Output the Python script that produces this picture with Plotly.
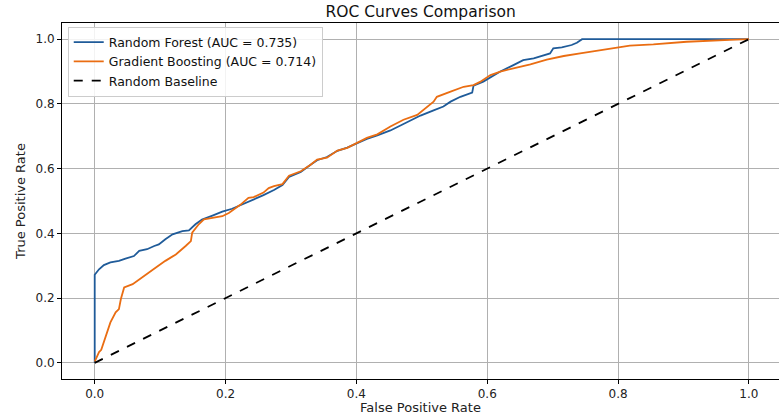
import plotly.graph_objects as go

# Random Forest ROC
rf_fpr = [0.0, 0.0, 0.0066, 0.014, 0.024, 0.037, 0.047, 0.060, 0.068, 0.080, 0.091, 0.098,
          0.108, 0.119, 0.134, 0.144, 0.154, 0.164, 0.180, 0.195, 0.210, 0.223, 0.243, 0.258,
          0.274, 0.287, 0.297, 0.315, 0.330, 0.340, 0.355, 0.371, 0.386, 0.401, 0.416, 0.432,
          0.452, 0.472, 0.498, 0.518, 0.533, 0.544, 0.559, 0.577, 0.579, 0.594, 0.610, 0.620,
          0.640, 0.655, 0.671, 0.696, 0.701, 0.714, 0.729, 0.737, 0.745, 1.0]
rf_tpr = [0.0, 0.272, 0.289, 0.302, 0.310, 0.315, 0.322, 0.330, 0.346, 0.351, 0.361, 0.366,
          0.382, 0.397, 0.407, 0.409, 0.428, 0.443, 0.455, 0.467, 0.476, 0.487, 0.506, 0.518,
          0.534, 0.549, 0.574, 0.590, 0.612, 0.626, 0.636, 0.655, 0.665, 0.679, 0.692, 0.703,
          0.718, 0.738, 0.764, 0.780, 0.792, 0.807, 0.822, 0.835, 0.856, 0.869, 0.889, 0.900,
          0.920, 0.935, 0.941, 0.956, 0.972, 0.975, 0.982, 0.989, 1.0, 1.0]

# Gradient Boosting ROC
gb_fpr = [0.0, 0.0066, 0.010, 0.014, 0.019, 0.024, 0.032, 0.037, 0.040, 0.045, 0.058, 0.068,
          0.078, 0.093, 0.108, 0.124, 0.139, 0.147, 0.149, 0.159, 0.167, 0.180, 0.195, 0.205,
          0.213, 0.223, 0.235, 0.243, 0.258, 0.266, 0.274, 0.287, 0.297, 0.315, 0.330, 0.340,
          0.355, 0.371, 0.386, 0.401, 0.416, 0.432, 0.452, 0.472, 0.493, 0.518, 0.523, 0.544,
          0.564, 0.579, 0.589, 0.605, 0.620, 0.640, 0.666, 0.691, 0.717, 0.742, 0.767, 0.793,
          0.818, 0.854, 0.905, 0.971, 1.0]
gb_tpr = [0.004, 0.033, 0.040, 0.064, 0.094, 0.125, 0.156, 0.166, 0.197, 0.233, 0.243, 0.258,
          0.274, 0.294, 0.315, 0.335, 0.361, 0.376, 0.402, 0.428, 0.443, 0.448, 0.453, 0.463,
          0.474, 0.489, 0.510, 0.512, 0.526, 0.540, 0.546, 0.552, 0.578, 0.592, 0.612, 0.628,
          0.634, 0.656, 0.664, 0.680, 0.695, 0.706, 0.730, 0.751, 0.766, 0.807, 0.822, 0.838,
          0.853, 0.858, 0.868, 0.889, 0.900, 0.910, 0.922, 0.937, 0.948, 0.956, 0.964, 0.972,
          0.980, 0.984, 0.992, 0.998, 1.0]

base_x = [0.0, 1.0]
base_y = [0.0, 1.0]

rf_label = "Random Forest (AUC = 0.735)"
gb_label = "Gradient Boosting (AUC = 0.714)"
base_label = "Random Baseline"

x_ticks = [0.0, 0.2, 0.4, 0.6, 0.8, 1.0]
y_ticks = [0.0, 0.2, 0.4, 0.6, 0.8, 1.0]

FONT = "DejaVu Sans"

fig = go.Figure()
fig.add_trace(go.Scatter(x=rf_fpr, y=rf_tpr, mode="lines", name=rf_label,
                         line=dict(color="#1f5b99", width=1.8)))
fig.add_trace(go.Scatter(x=gb_fpr, y=gb_tpr, mode="lines", name=gb_label,
                         line=dict(color="#ea6d12", width=1.8)))
fig.add_trace(go.Scatter(x=base_x, y=base_y, mode="lines", name=base_label,
                         line=dict(color="black", width=1.8, dash="dash")))

fig.update_layout(
    width=779, height=415,
    margin=dict(l=62, r=0, t=23, b=34),
    paper_bgcolor="white", plot_bgcolor="white",
    font=dict(family=FONT, color="#222222"),
    title=dict(text="ROC Curves Comparison", x=0.54, xanchor="center",
               y=0.972, yanchor="middle", font=dict(size=15.5, color="#111111")),
    legend=dict(x=0.008, y=0.99, xanchor="left", yanchor="top",
                bgcolor="rgba(255,255,255,0.85)", bordercolor="#cccccc", borderwidth=1,
                font=dict(size=12.5, color="#111111"), itemwidth=30,
                tracegroupgap=0),
    showlegend=True,
)
fig.update_xaxes(range=[-0.05, 1.046], tickvals=x_ticks,
                 ticktext=[f"{v:.1f}" for v in x_ticks],
                 showgrid=True, gridcolor="#b0b0b0", gridwidth=1,
                 showline=True, linecolor="black", linewidth=1, mirror=True,
                 ticks="outside", ticklen=4, tickcolor="black",
                 tickfont=dict(size=12), zeroline=False,
                 title=dict(text="False Positive Rate", font=dict(size=13), standoff=4))
fig.update_yaxes(range=[-0.05, 1.05], tickvals=y_ticks,
                 ticktext=[f"{v:.1f}" for v in y_ticks],
                 showgrid=True, gridcolor="#b0b0b0", gridwidth=1,
                 showline=True, linecolor="black", linewidth=1, mirror=False,
                 ticks="outside", ticklen=4, tickcolor="black",
                 tickfont=dict(size=12), zeroline=False,
                 title=dict(text="True Positive Rate", font=dict(size=13), standoff=6))

fig.write_html("out.html")
